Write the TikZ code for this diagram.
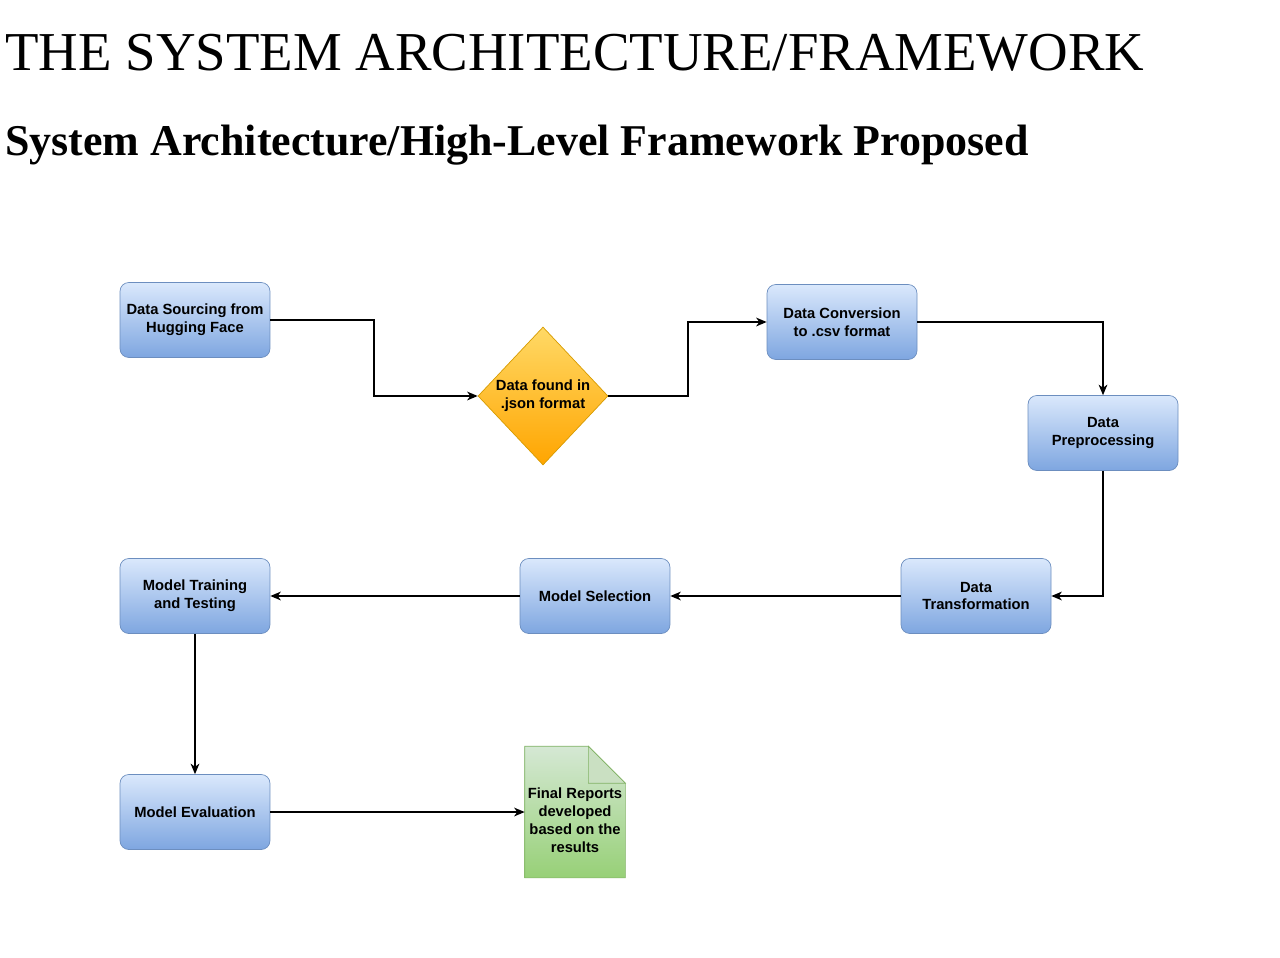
\documentclass[tikz,border=0pt]{standalone}
\usepackage{fontspec}
\setmainfont{Liberation Serif}
\newfontfamily\boxfont{Liberation Sans}
\usetikzlibrary{shapes.geometric, positioning, arrows.meta}

\definecolor{boxtop}{HTML}{DAE8FC}
\definecolor{boxbot}{HTML}{7EA6E0}
\definecolor{boxline}{HTML}{6C8EBF}
\definecolor{dectop}{HTML}{FFD966}
\definecolor{decbot}{HTML}{FFA500}
\definecolor{decline}{HTML}{D79B00}
\definecolor{doctop}{HTML}{D5E8D4}
\definecolor{docbot}{HTML}{97D077}
\definecolor{docline}{HTML}{82B366}

\tikzset{
    procbox/.style={draw=boxline, top color=boxtop, bottom color=boxbot, rounded corners=5pt,
        minimum width=3cm, minimum height=1.5cm, align=center, inner sep=2pt,
        font=\boxfont\bfseries\fontsize{8.4}{10.2}\selectfont},
    decbox/.style={diamond, draw=decline, top color=dectop, bottom color=decbot,
        minimum width=2.6cm, minimum height=2.76cm, inner sep=0pt, align=center,
        font=\boxfont\bfseries\fontsize{8.4}{10.2}\selectfont},
    doctext/.style={minimum width=2cm, minimum height=2.62cm, inner sep=0pt, align=center,
        font=\boxfont\bfseries\fontsize{8.4}{10.2}\selectfont},
    flow/.style={->, line width=0.7pt}
}

\begin{document}
\begin{tikzpicture}[x=0.02cm, y=-0.02cm, >={Stealth[length=6pt, width=5pt, inset=1.8pt]}]

    \useasboundingbox (0,0) rectangle (1280,957);

    % Titres
    \node[anchor=base west, inner sep=0pt, font=\fontsize{31.2}{36}\selectfont] (title) at (5,70) {THE SYSTEM ARCHITECTURE/FRAMEWORK};
    \node[anchor=base west, inner sep=0pt, font=\bfseries\fontsize{25}{30}\selectfont] (subtitle) at (5,155) {System Architecture/High-Level Framework Proposed};

    % Etapes du flux
    \node[procbox] (source) at (195,320) {Data Sourcing from\\Hugging Face};
    \node[decbox] (json) at (543,396) {Data found in\\.json format};
    \node[procbox] (csv) at (842,322) {Data Conversion\\to .csv format};
    \node[procbox] (prep) at (1103,433) {Data\\Preprocessing};
    \node[procbox] (trans) at (976,596) {Data\\Transformation};
    \node[procbox] (select) at (595,596) {Model Selection};
    \node[procbox] (train) at (195,596) {Model Training\\and Testing};
    \node[procbox] (eval) at (195,812) {Model Evaluation};

    % Document final (coin replie)
    \node[doctext] (report) at (575,812) {};
    \draw[docline, top color=doctop, bottom color=docbot]
        (report.north west) -- ([xshift=-37*0.02cm]report.north east)
        -- ([yshift=-37*0.02cm]report.north east) -- (report.south east)
        -- (report.south west) -- cycle;
    \draw[docline, fill=doctop!60!docline!70]
        ([xshift=-37*0.02cm]report.north east) -- ([xshift=-37*0.02cm, yshift=-37*0.02cm]report.north east)
        -- ([yshift=-37*0.02cm]report.north east) -- cycle;
    \node[doctext, yshift=-8*0.02cm] at (report) {Final Reports\\developed\\based on the\\results};

    % Connecteurs
    \draw[flow] (source.east) -| (374,396) -- (json.west);
    \draw[flow] (json.east) -| (688,322) -- (csv.west);
    \draw[flow] (csv.east) -| (prep.north);
    \draw[flow] (prep.south) |- (trans.east);
    \draw[flow] (trans.west) -- (select.east);
    \draw[flow] (select.west) -- (train.east);
    \draw[flow] (train.south) -- (eval.north);
    \draw[flow] (eval.east) -- (report.west);

\end{tikzpicture}
\end{document}
